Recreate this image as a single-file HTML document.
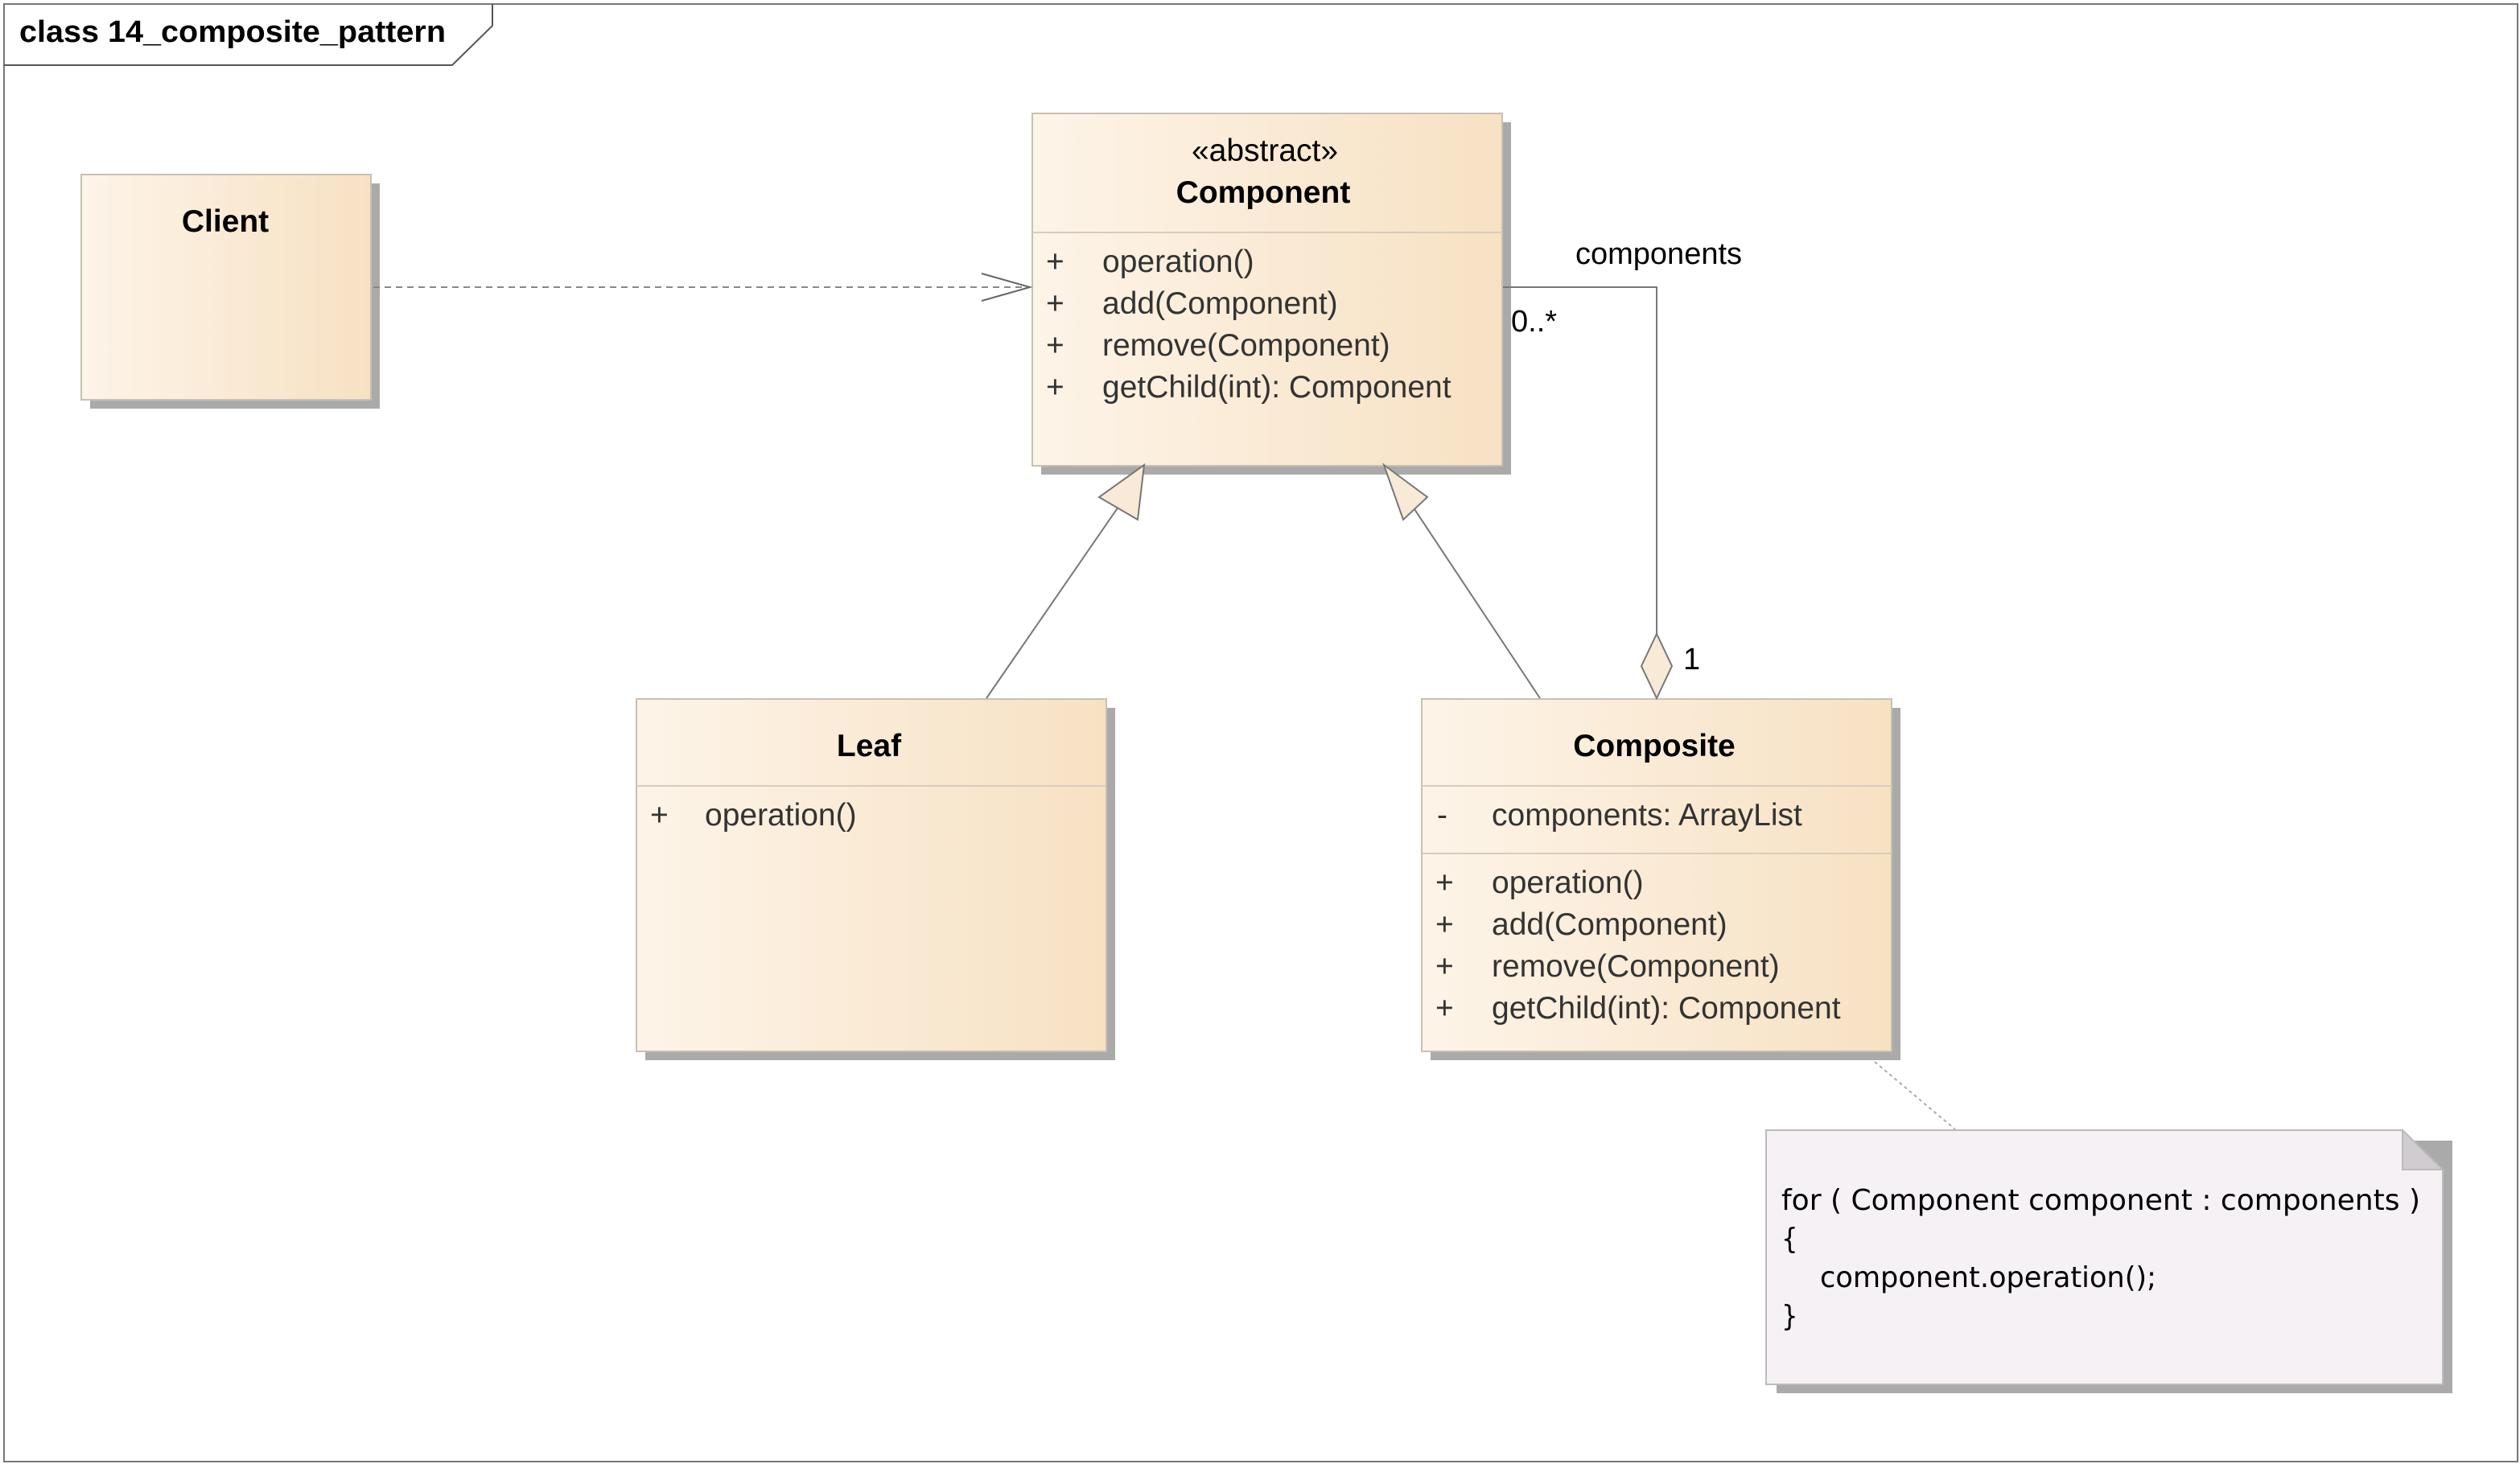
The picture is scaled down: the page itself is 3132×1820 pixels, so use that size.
<!DOCTYPE html>
<html><head><meta charset="utf-8"><style>html,body{margin:0;padding:0;background:#fff}svg{display:block}</style></head><body>
<svg xmlns="http://www.w3.org/2000/svg" width="3132" height="1820" viewBox="0 0 1566 910" font-family="'Liberation Sans', Arial, sans-serif">
<defs>
<linearGradient id="g" x1="0" x2="1" y1="0" y2="0"><stop offset="0" stop-color="#fdf4e8"/><stop offset="1" stop-color="#f7e1c3"/></linearGradient>
</defs>
<rect x="2.5" y="2.5" width="1562" height="906" fill="#fff" stroke="#777" stroke-width="1"/>
<path d="M2.5 40.5 H281 L306 16 V2.5" fill="none" stroke="#555" stroke-width="1"/>
<text x="12" y="26" font-size="19" font-weight="bold" textLength="265" lengthAdjust="spacingAndGlyphs">class 14_composite_pattern</text>

<!-- Client -->
<rect x="56" y="114" width="180" height="140" fill="#aaa"/>
<rect x="50.5" y="108.5" width="180" height="140" fill="url(#g)" stroke="#c8c0b4"/>
<text x="140" y="144" font-size="19.5" font-weight="bold" text-anchor="middle">Client</text>

<!-- Component -->
<rect x="647" y="76" width="292" height="219" fill="#aaa"/>
<rect x="641.5" y="70.5" width="292" height="219" fill="url(#g)" stroke="#c8c0b4"/>
<line x1="641.5" y1="144.5" x2="933.5" y2="144.5" stroke="#d8ccbc"/>
<text x="786" y="100" font-size="19.5" text-anchor="middle">«abstract»</text>
<text x="785" y="126" font-size="19.5" font-weight="bold" text-anchor="middle">Component</text>
<g font-size="19.5" fill="#333">
<text x="650" y="169">+</text><text x="685" y="169">operation()</text>
<text x="650" y="195">+</text><text x="685" y="195">add(Component)</text>
<text x="650" y="221">+</text><text x="685" y="221">remove(Component)</text>
<text x="650" y="247">+</text><text x="685" y="247">getChild(int): Component</text>
</g>

<!-- Leaf -->
<rect x="401" y="440" width="292" height="219" fill="#aaa"/>
<rect x="395.5" y="434.5" width="292" height="219" fill="url(#g)" stroke="#c8c0b4"/>
<line x1="395.5" y1="488.5" x2="687.5" y2="488.5" stroke="#d8ccbc"/>
<text x="540" y="470" font-size="19.5" font-weight="bold" text-anchor="middle">Leaf</text>
<g font-size="19.5" fill="#333"><text x="404" y="513">+</text><text x="438" y="513">operation()</text></g>

<!-- Composite -->
<rect x="889" y="440" width="292" height="219" fill="#aaa"/>
<rect x="883.5" y="434.5" width="292" height="219" fill="url(#g)" stroke="#c8c0b4"/>
<line x1="883.5" y1="488.5" x2="1175.5" y2="488.5" stroke="#d8ccbc"/>
<line x1="883.5" y1="530.5" x2="1175.5" y2="530.5" stroke="#d8ccbc"/>
<text x="1028" y="470" font-size="19.5" font-weight="bold" text-anchor="middle">Composite</text>
<g font-size="19.5" fill="#333">
<text x="893" y="513">-</text><text x="927" y="513">components: ArrayList</text>
<text x="892" y="555">+</text><text x="927" y="555">operation()</text>
<text x="892" y="581">+</text><text x="927" y="581">add(Component)</text>
<text x="892" y="607">+</text><text x="927" y="607">remove(Component)</text>
<text x="892" y="633">+</text><text x="927" y="633">getChild(int): Component</text>
</g>

<!-- Note -->
<path d="M1104 709 H1524 V866 H1104 Z" fill="#aaa"/>
<path d="M1097.5 702.5 H1493 L1518 727 V860.5 H1097.5 Z" fill="#f5f1f4" stroke="#bbb"/>
<path d="M1493 702.5 V727 H1518 Z" fill="#d0ccd0" stroke="#bbb"/>
<g font-family="'DejaVu Sans Condensed','Liberation Sans Narrow','Liberation Sans',sans-serif" font-size="18" fill="#000">
<text x="1107" y="752" textLength="397" lengthAdjust="spacingAndGlyphs">for ( Component component : components )</text>
<text x="1107" y="776">{</text>
<text x="1131" y="800" textLength="209" lengthAdjust="spacingAndGlyphs">component.operation();</text>
<text x="1107" y="824">}</text>
</g>
<line x1="1165" y1="660" x2="1215" y2="702" stroke="#aaa" stroke-dasharray="2,2"/>

<!-- Dependency -->
<line x1="232" y1="178.5" x2="640" y2="178.5" stroke="#888" stroke-dasharray="4,3"/>
<path d="M610 170 L640 178.5 L610 187" fill="none" stroke="#666"/>

<!-- Generalizations -->
<line x1="613" y1="434" x2="695" y2="315" stroke="#777"/>
<path d="M711 289 L683 309 L707 323 Z" fill="#f8ead6" stroke="#777"/>
<line x1="957" y1="434" x2="878" y2="315" stroke="#777"/>
<path d="M860 289 L887 309 L872 323 Z" fill="#f8ead6" stroke="#777"/>

<!-- Aggregation -->
<path d="M934 178.5 H1029.5 V394" fill="none" stroke="#777"/>
<path d="M1029.5 394 L1039 414 L1029.5 434 L1020 414 Z" fill="#f8ead6" stroke="#777"/>
<text x="979" y="164" font-size="19">components</text>
<text x="939" y="206" font-size="19">0..*</text>
<text x="1046" y="416" font-size="19">1</text>
</svg>
</body></html>
